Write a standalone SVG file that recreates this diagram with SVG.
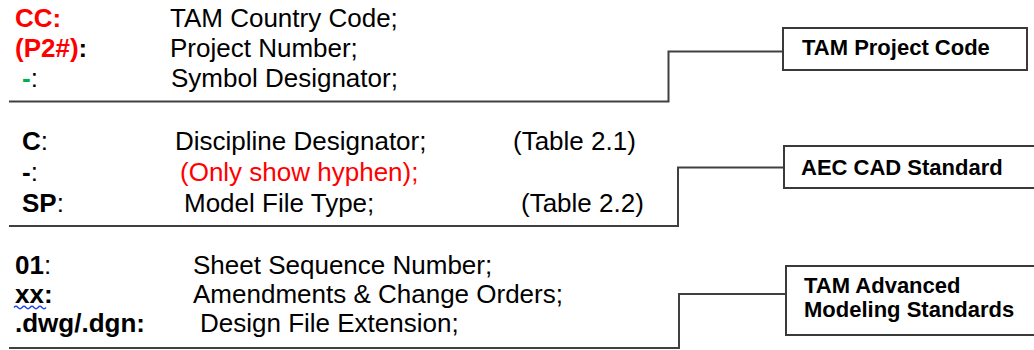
<svg xmlns="http://www.w3.org/2000/svg" width="1034" height="350" viewBox="0 0 1034 350">
  <style>
    text { font-family: "Liberation Sans", Arial, sans-serif; fill: #000; }
    .t { font-size: 26px; }
    .b { font-weight: bold; }
    .red { fill: #ff0000; }
    .green { fill: #00b050; }
    .lbl { font-size: 22px; font-weight: bold; }
    .box { fill: #fff; stroke: #3a3a3a; stroke-width: 2; }
    .rule { fill: none; stroke: #404040; stroke-width: 2; }
  </style>
  <rect width="1034" height="350" fill="#fff"/>

  <!-- separators that lead to each standard box -->
  <g id="connectors">
    <polyline class="rule" points="9,101.5 668.5,101.5 668.5,51.5 784,51.5"/>
    <polyline class="rule" points="9,226 678,226 678,167.5 785,167.5"/>
    <polyline class="rule" points="9,348 679,348 679,294 787,294"/>
  </g>

  <!-- project code fields -->
  <g id="project-fields">
    <text x="15" y="27" class="t b red">CC:</text>
    <text x="170" y="27" class="t">TAM Country Code;</text>
    <text x="15" y="57" class="t b"><tspan class="red">(P2#)</tspan>:</text>
    <text x="170" y="57" class="t">Project Number;</text>
    <text x="22" y="87" class="t"><tspan class="b green">-</tspan>:</text>
    <text x="171" y="87" class="t">Symbol Designator;</text>
  </g>

  <!-- CAD standard fields -->
  <g id="cad-fields">
    <text x="22" y="150" class="t"><tspan class="b">C</tspan>:</text>
    <text x="175" y="150" class="t">Discipline Designator;</text>
    <text x="513" y="150" class="t">(Table 2.1)</text>
    <text x="22" y="181" class="t"><tspan class="b">-</tspan>:</text>
    <text x="180" y="181" class="t red">(Only show hyphen);</text>
    <text x="22" y="212" class="t"><tspan class="b">SP</tspan>:</text>
    <text x="184" y="212" class="t">Model File Type;</text>
    <text x="521" y="212" class="t">(Table 2.2)</text>
  </g>

  <!-- modeling standard fields -->
  <g id="modeling-fields">
    <text x="15" y="274" class="t"><tspan class="b">01</tspan>:</text>
    <text x="193" y="274" class="t">Sheet Sequence Number;</text>
    <text x="15" y="303" class="t b">xx:</text>
    <path d="M14,307.5 q2,-2.5 4,0 t4,0 t4,0 t4,0 t4,0 t4,0 t4,0 t4,0" fill="none" stroke="#2244ee" stroke-width="1.3"/>
    <text x="193" y="303" class="t">Amendments &amp; Change Orders;</text>
    <text x="15" y="332" class="t b">.dwg/.dgn:</text>
    <text x="200" y="332" class="t">Design File Extension;</text>
  </g>

  <g id="tam-project-code">
    <rect class="box" x="783" y="28" width="244" height="42"/>
    <text x="802" y="55" class="lbl">TAM Project Code</text>
  </g>

  <g id="aec-cad-standard">
    <rect class="box" x="784" y="146" width="260" height="42"/>
    <text x="801" y="175" class="lbl">AEC CAD Standard</text>
  </g>

  <g id="tam-advanced-modeling">
    <rect class="box" x="786" y="266" width="260" height="69"/>
    <text x="804" y="293" class="lbl">TAM Advanced</text>
    <text x="804" y="317" class="lbl">Modeling Standards</text>
  </g>
</svg>
